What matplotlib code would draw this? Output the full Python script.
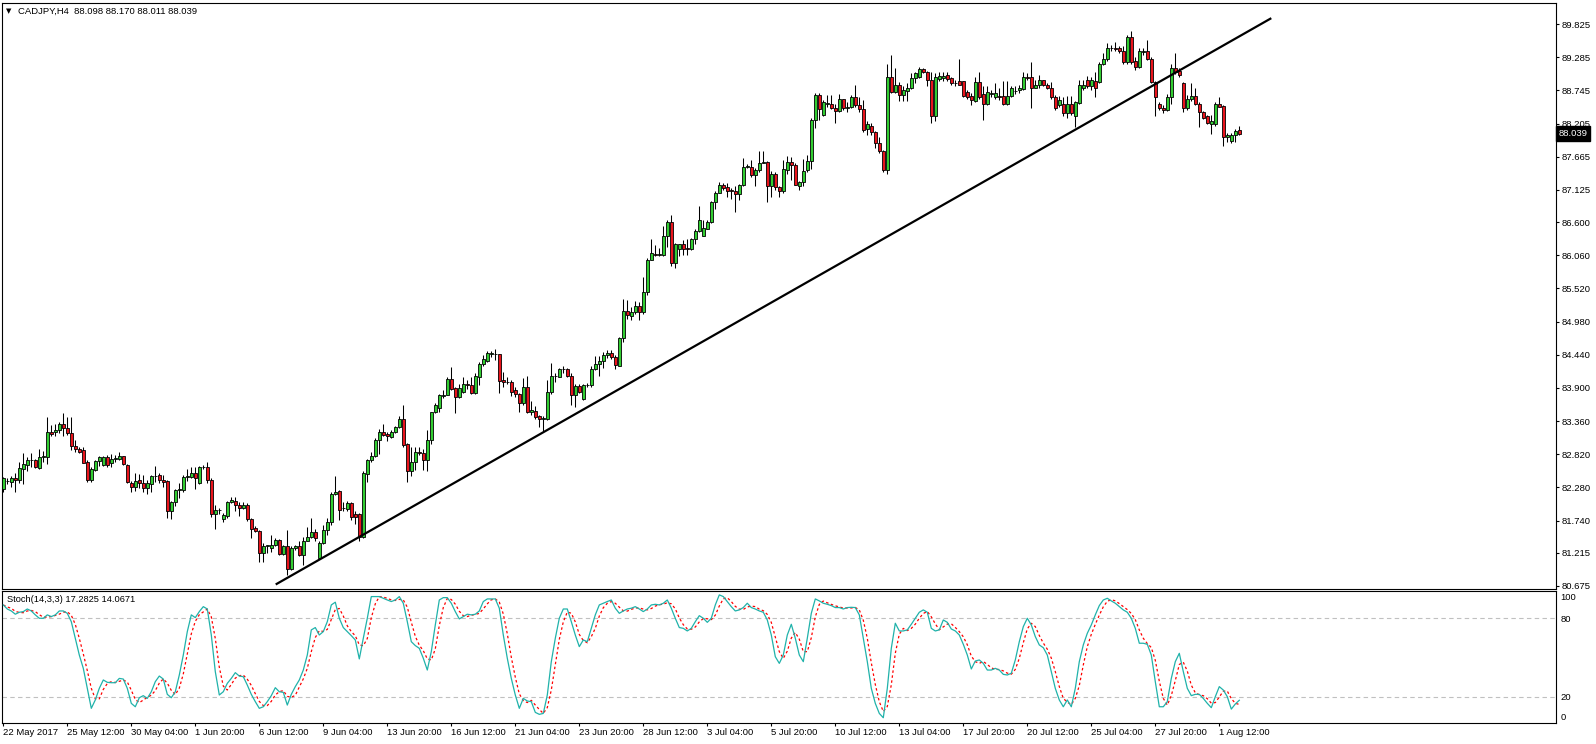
# plot.py
import numpy as np
import pandas as pd
import matplotlib
matplotlib.use("Agg")
import matplotlib.pyplot as plt
from matplotlib.transforms import blended_transform_factory

plt.rcParams['font.family'] = ['Liberation Sans', 'DejaVu Sans']

# -- CADJPY H4 candles -------------------------------------------------
opens = [
    82.26, 82.39, 82.37, 82.43, 82.40, 82.58, 82.65, 82.72, 82.72, 82.60,
    82.78, 82.78, 83.18, 83.18, 83.22, 83.32, 83.24, 83.16, 82.96, 82.91,
    82.89, 82.69, 82.40, 82.56, 82.71, 82.65, 82.78, 82.67, 82.75, 82.75,
    82.79, 82.65, 82.36, 82.28, 82.40, 82.36, 82.27, 82.33, 82.46, 82.48,
    82.40, 82.38, 81.89, 82.05, 82.24, 82.24, 82.45, 82.45, 82.51, 82.35,
    82.61, 82.61, 82.40, 81.84, 81.91, 81.77, 81.82, 82.05, 82.06, 82.00,
    81.95, 82.00, 81.76, 81.62, 81.57, 81.21, 81.33, 81.30, 81.34, 81.42,
    81.19, 81.32, 80.95, 81.29, 81.33, 81.18, 81.41, 81.48, 81.55, 81.13,
    81.38, 81.59, 81.71, 82.18, 82.22, 81.94, 81.93, 82.02, 81.85, 81.85,
    81.47, 82.50, 82.72, 82.79, 83.06, 83.19, 83.15, 83.10, 83.19, 83.26,
    83.39, 82.98, 82.55, 82.70, 82.86, 82.84, 82.72, 83.06, 83.50, 83.58,
    83.77, 83.79, 84.05, 83.90, 83.76, 83.84, 83.97, 83.94, 83.82, 84.08,
    84.29, 84.34, 84.45, 84.45, 84.45, 84.03, 83.99, 83.99, 83.86, 83.80,
    83.65, 83.91, 83.50, 83.53, 83.44, 83.40, 83.40, 83.83, 84.09, 84.08,
    84.21, 84.20, 84.10, 83.78, 83.93, 83.72, 83.94, 83.94, 84.21, 84.29,
    84.34, 84.43, 84.47, 84.40, 84.26, 84.71, 85.16, 85.07, 85.14, 85.23,
    85.13, 85.46, 85.99, 86.08, 86.07, 86.06, 86.38, 86.60, 85.94, 86.16,
    86.24, 86.17, 86.16, 86.32, 86.46, 86.38, 86.49, 86.60, 86.92, 87.08,
    87.21, 87.17, 87.12, 87.11, 87.05, 87.20, 87.49, 87.49, 87.36, 87.44,
    87.57, 87.58, 87.18, 87.38, 87.17, 87.10, 87.45, 87.58, 87.53, 87.18,
    87.25, 87.44, 87.59, 88.27, 88.67, 88.34, 88.53, 88.53, 88.46, 88.41,
    88.60, 88.45, 88.48, 88.63, 88.51, 88.44, 88.12, 88.16, 88.06, 87.88,
    87.76, 87.45, 88.97, 88.72, 88.83, 88.67, 88.74, 88.78, 88.94, 88.97,
    89.09, 89.05, 88.92, 88.32, 88.93, 88.94, 89.00, 88.95, 88.86, 88.90,
    88.90, 88.72, 88.66, 88.57, 88.88, 88.68, 88.53, 88.69, 88.64, 88.66,
    88.66, 88.52, 88.66, 88.73, 88.75, 88.77, 88.97, 88.96, 88.79, 88.83,
    88.91, 88.84, 88.79, 88.64, 88.51, 88.53, 88.37, 88.53, 88.32, 88.54,
    88.78, 88.91, 88.81, 88.90, 88.88, 89.17, 89.25, 89.43, 89.43, 89.43,
    89.39, 89.20, 89.62, 89.22, 89.13, 89.37, 89.38, 89.25, 88.88, 88.52,
    88.45, 88.43, 88.64, 89.11, 89.06, 88.86, 88.45, 88.60, 88.66, 88.53,
    88.39, 88.32, 88.19, 88.19, 88.53, 88.49, 87.99, 87.92, 88.02, 88.098,
]
highs = [
    82.45, 82.43, 82.46, 82.51, 82.70, 82.84, 82.78, 82.84, 82.75, 82.91,
    82.87, 83.42, 83.30, 83.31, 83.35, 83.49, 83.42, 83.42, 83.05, 82.93,
    82.94, 82.73, 82.62, 82.73, 82.79, 82.79, 82.81, 82.82, 82.80, 82.86,
    82.79, 82.66, 82.38, 82.51, 82.50, 82.48, 82.40, 82.48, 82.63, 82.51,
    82.48, 82.40, 82.06, 82.26, 82.36, 82.48, 82.58, 82.62, 82.62, 82.63,
    82.64, 82.69, 82.43, 81.99, 81.94, 81.86, 82.06, 82.13, 82.13, 82.04,
    82.04, 82.02, 81.78, 81.65, 81.59, 81.37, 81.35, 81.50, 81.45, 81.44,
    81.35, 81.59, 81.32, 81.34, 81.41, 81.48, 81.63, 81.78, 81.61, 81.40,
    81.67, 81.78, 82.21, 82.46, 82.24, 82.05, 82.06, 82.05, 81.89, 81.87,
    82.54, 82.74, 82.86, 83.08, 83.23, 83.31, 83.19, 83.21, 83.28, 83.45,
    83.62, 83.01, 82.94, 82.94, 82.94, 82.90, 83.21, 83.51, 83.65, 83.80,
    83.87, 84.07, 84.24, 83.92, 83.97, 84.07, 84.03, 84.07, 84.14, 84.33,
    84.44, 84.50, 84.50, 84.54, 84.46, 84.16, 84.08, 84.03, 83.92, 83.82,
    84.06, 84.09, 83.68, 83.61, 83.46, 83.44, 84.03, 84.31, 84.14, 84.23,
    84.25, 84.22, 84.14, 83.96, 83.96, 83.97, 83.98, 84.25, 84.42, 84.42,
    84.49, 84.51, 84.51, 84.44, 84.73, 85.34, 85.33, 85.22, 85.32, 85.30,
    85.71, 86.01, 86.32, 86.23, 86.17, 86.53, 86.63, 86.71, 86.26, 86.25,
    86.31, 86.32, 86.34, 86.48, 86.86, 86.63, 86.63, 86.95, 87.11, 87.26,
    87.24, 87.23, 87.16, 87.18, 87.22, 87.64, 87.55, 87.61, 87.48, 87.75,
    87.76, 87.60, 87.43, 87.42, 87.19, 87.61, 87.68, 87.66, 87.56, 87.27,
    87.62, 87.69, 88.29, 88.70, 88.70, 88.58, 88.67, 88.67, 88.53, 88.69,
    88.61, 88.56, 88.67, 88.83, 88.64, 88.59, 88.24, 88.21, 88.08, 87.99,
    87.77, 89.17, 89.32, 89.11, 88.88, 88.82, 88.86, 89.02, 89.05, 89.13,
    89.11, 89.06, 89.05, 89.02, 89.04, 89.05, 89.05, 88.97, 88.91, 89.26,
    88.90, 88.75, 88.70, 88.97, 89.05, 88.82, 88.82, 88.75, 88.86, 88.78,
    88.89, 88.90, 88.81, 88.81, 88.84, 89.05, 89.02, 89.20, 88.91, 89.00,
    88.91, 88.86, 88.88, 88.67, 88.66, 88.63, 88.66, 88.66, 88.57, 88.91,
    88.91, 88.98, 88.97, 89.05, 89.20, 89.35, 89.51, 89.49, 89.54, 89.47,
    89.46, 89.65, 89.71, 89.29, 89.44, 89.43, 89.56, 89.28, 88.90, 88.55,
    88.51, 88.68, 89.17, 89.35, 89.11, 88.88, 88.67, 88.86, 88.78, 88.56,
    88.41, 88.34, 88.34, 88.55, 88.64, 88.51, 88.05, 88.05, 88.12, 88.170,
]
lows = [
    82.21, 82.33, 82.29, 82.20, 82.36, 82.33, 82.54, 82.62, 82.59, 82.58,
    82.70, 82.66, 83.11, 83.12, 83.16, 83.11, 83.13, 82.89, 82.86, 82.84,
    82.67, 82.37, 82.37, 82.55, 82.63, 82.63, 82.62, 82.62, 82.70, 82.73,
    82.65, 82.35, 82.21, 82.22, 82.27, 82.21, 82.18, 82.21, 82.37, 82.36,
    82.28, 81.78, 81.77, 81.97, 82.10, 82.21, 82.39, 82.43, 82.26, 82.33,
    82.58, 82.36, 81.80, 81.61, 81.84, 81.72, 81.79, 82.02, 81.89, 81.82,
    81.93, 81.74, 81.46, 81.56, 81.07, 81.07, 81.22, 81.23, 81.33, 81.18,
    81.18, 80.86, 80.94, 81.26, 81.17, 81.02, 81.40, 81.46, 81.40, 81.11,
    81.36, 81.51, 81.67, 82.16, 81.75, 81.89, 81.89, 81.75, 81.69, 81.41,
    81.45, 82.37, 82.70, 82.78, 82.82, 83.11, 83.03, 83.08, 83.17, 83.24,
    82.94, 82.37, 82.46, 82.56, 82.81, 82.56, 82.55, 82.99, 83.49, 83.51,
    83.73, 83.78, 83.87, 83.49, 83.73, 83.82, 83.89, 83.80, 83.80, 83.95,
    84.25, 84.33, 84.41, 84.35, 83.82, 83.92, 83.96, 83.77, 83.76, 83.51,
    83.62, 83.49, 83.46, 83.40, 83.26, 83.20, 83.38, 83.80, 84.00, 84.07,
    84.14, 84.07, 83.62, 83.59, 83.82, 83.71, 83.91, 83.92, 84.19, 84.09,
    84.23, 84.38, 84.37, 84.21, 84.26, 84.65, 85.02, 85.01, 85.11, 85.00,
    85.10, 85.41, 85.98, 86.04, 86.05, 86.05, 86.20, 85.88, 85.85, 86.04,
    86.06, 86.06, 86.15, 86.24, 86.44, 86.37, 86.48, 86.58, 86.82, 87.07,
    87.12, 87.01, 86.98, 86.77, 86.96, 87.19, 87.48, 87.34, 87.18, 87.42,
    87.56, 86.92, 87.01, 87.12, 87.01, 87.08, 87.39, 87.29, 87.20, 87.12,
    87.18, 87.42, 87.46, 88.13, 88.26, 88.33, 88.48, 88.44, 88.22, 88.40,
    88.42, 88.40, 88.45, 88.48, 88.40, 88.07, 88.02, 88.02, 87.80, 87.72,
    87.42, 87.39, 88.70, 88.70, 88.57, 88.57, 88.57, 88.77, 88.86, 88.95,
    89.02, 88.82, 88.22, 88.25, 88.89, 88.90, 88.90, 88.83, 88.81, 88.83,
    88.64, 88.61, 88.51, 88.55, 88.61, 88.26, 88.51, 88.64, 88.60, 88.59,
    88.51, 88.51, 88.64, 88.68, 88.70, 88.75, 88.91, 88.46, 88.78, 88.78,
    88.81, 88.77, 88.61, 88.43, 88.48, 88.32, 88.30, 88.34, 88.15, 88.52,
    88.75, 88.78, 88.75, 88.64, 88.86, 89.16, 89.22, 89.38, 89.38, 89.35,
    89.18, 89.18, 89.18, 89.08, 89.11, 89.32, 89.24, 88.86, 88.32, 88.43,
    88.37, 88.41, 88.53, 89.01, 88.97, 88.40, 88.43, 88.57, 88.51, 88.14,
    88.28, 88.19, 88.03, 88.17, 88.48, 87.84, 87.90, 87.88, 87.90, 88.011,
]
closes = [
    82.43, 82.38, 82.43, 82.40, 82.59, 82.66, 82.72, 82.73, 82.61, 82.78,
    82.79, 83.18, 83.15, 83.22, 83.32, 83.24, 83.16, 82.96, 82.91, 82.86,
    82.68, 82.40, 82.58, 82.71, 82.78, 82.78, 82.65, 82.74, 82.76, 82.79,
    82.66, 82.37, 82.28, 82.38, 82.36, 82.27, 82.35, 82.46, 82.47, 82.40,
    82.37, 81.89, 82.04, 82.24, 82.25, 82.45, 82.46, 82.52, 82.44, 82.61,
    82.62, 82.40, 81.84, 81.91, 81.92, 81.83, 82.05, 82.07, 82.00, 81.95,
    82.00, 81.76, 81.61, 81.57, 81.21, 81.33, 81.33, 81.34, 81.42, 81.19,
    81.32, 80.95, 81.29, 81.33, 81.18, 81.41, 81.48, 81.55, 81.46, 81.38,
    81.59, 81.71, 82.18, 82.21, 81.91, 81.94, 82.02, 81.80, 81.80, 81.47,
    82.52, 82.72, 82.79, 83.06, 83.19, 83.13, 83.11, 83.19, 83.26, 83.39,
    82.97, 82.55, 82.70, 82.86, 82.84, 82.72, 83.06, 83.50, 83.62, 83.78,
    83.79, 84.05, 83.89, 83.76, 83.90, 83.97, 83.94, 83.82, 84.09, 84.29,
    84.37, 84.47, 84.47, 84.46, 84.02, 83.99, 83.99, 83.84, 83.80, 83.65,
    83.91, 83.50, 83.54, 83.43, 83.39, 83.41, 83.83, 84.09, 84.10, 84.21,
    84.21, 84.10, 83.78, 83.93, 83.84, 83.94, 83.95, 84.21, 84.29, 84.34,
    84.43, 84.47, 84.40, 84.27, 84.71, 85.16, 85.09, 85.14, 85.23, 85.13,
    85.46, 85.99, 86.09, 86.07, 86.08, 86.38, 86.60, 85.94, 86.24, 86.24,
    86.16, 86.16, 86.32, 86.46, 86.64, 86.51, 86.60, 86.92, 87.08, 87.21,
    87.15, 87.11, 87.11, 87.05, 87.20, 87.49, 87.52, 87.36, 87.45, 87.57,
    87.58, 87.18, 87.39, 87.17, 87.10, 87.46, 87.58, 87.53, 87.21, 87.25,
    87.43, 87.59, 88.27, 88.67, 88.44, 88.55, 88.54, 88.45, 88.41, 88.60,
    88.45, 88.48, 88.63, 88.51, 88.44, 88.10, 88.20, 88.06, 87.88, 87.75,
    87.45, 88.97, 88.72, 88.83, 88.67, 88.75, 88.79, 88.95, 89.02, 89.09,
    89.04, 88.92, 88.32, 88.97, 88.98, 88.98, 88.93, 88.86, 88.86, 88.84,
    88.66, 88.64, 88.58, 88.88, 88.64, 88.53, 88.72, 88.69, 88.70, 88.64,
    88.52, 88.66, 88.78, 88.74, 88.78, 88.97, 88.94, 88.79, 88.84, 88.91,
    88.83, 88.78, 88.63, 88.45, 88.59, 88.37, 88.53, 88.37, 88.55, 88.83,
    88.83, 88.81, 88.91, 88.78, 89.17, 89.26, 89.43, 89.43, 89.42, 89.38,
    89.20, 89.62, 89.21, 89.13, 89.38, 89.38, 89.25, 88.88, 88.63, 88.45,
    88.43, 88.64, 89.11, 89.05, 89.00, 88.45, 88.60, 88.66, 88.53, 88.39,
    88.30, 88.21, 88.24, 88.53, 88.48, 87.99, 88.02, 88.02, 88.09, 88.039,
]

# Stoch(14,3,3) main line %K
stoch_k = [
    90.2, 87.1, 85.6, 83.1, 84.6, 85.1, 87.1, 85.6, 82.6, 80.0,
    80.0, 82.6, 81.3, 82.6, 85.6, 85.6, 83.8, 77.4, 64.7, 51.9,
    41.7, 26.4, 11.1, 17.5, 26.4, 32.8, 31.0, 30.7, 30.7, 34.0,
    33.5, 26.4, 14.9, 12.3, 19.2, 20.8, 18.7, 23.8, 31.5, 35.8,
    33.5, 21.8, 19.2, 23.8, 36.6, 51.9, 69.8, 82.6, 80.5, 85.1,
    88.9, 87.1, 67.2, 39.2, 21.3, 23.8, 30.2, 34.0, 38.4, 35.8,
    35.3, 28.9, 21.8, 16.2, 11.1, 12.3, 16.2, 20.8, 26.9, 23.8,
    23.3, 13.6, 21.8, 27.7, 32.8, 40.4, 51.9, 71.1, 72.9, 67.2,
    69.8, 77.4, 90.2, 92.3, 80.0, 72.9, 69.8, 66.7, 63.4, 48.9,
    64.7, 80.0, 96.6, 96.6, 96.6, 95.3, 94.0, 92.8, 94.0, 96.6,
    91.5, 77.4, 62.1, 59.1, 57.0, 49.4, 40.4, 54.5, 74.9, 94.0,
    95.8, 95.8, 91.5, 85.1, 79.5, 81.3, 83.1, 82.6, 83.1, 85.6,
    92.8, 94.8, 94.8, 94.8, 87.7, 67.2, 49.4, 34.0, 21.3, 11.1,
    18.7, 16.7, 16.2, 8.0, 6.5, 7.2, 21.3, 46.8, 64.7, 80.0,
    87.1, 87.1, 77.4, 67.2, 58.3, 63.4, 62.1, 72.3, 82.6, 90.2,
    91.5, 92.8, 94.0, 87.7, 83.8, 85.6, 87.1, 87.7, 88.9, 87.1,
    85.1, 87.1, 90.2, 90.7, 90.2, 91.5, 94.0, 87.7, 80.0, 72.9,
    72.3, 70.3, 72.3, 77.4, 82.0, 80.0, 76.9, 80.0, 90.2, 97.9,
    96.6, 92.8, 88.9, 85.6, 86.4, 88.2, 91.5, 88.2, 87.1, 85.6,
    84.6, 78.7, 67.2, 50.6, 45.5, 51.9, 67.2, 75.4, 64.7, 51.9,
    46.8, 64.7, 83.8, 94.8, 93.3, 91.5, 90.7, 89.7, 88.2, 88.2,
    87.1, 88.2, 88.4, 88.2, 82.6, 64.7, 46.8, 26.4, 14.9, 7.2,
    3.9, 26.4, 57.0, 76.2, 70.3, 70.3, 71.1, 75.4, 80.0, 84.6,
    86.4, 84.6, 72.3, 70.3, 71.1, 78.7, 76.9, 71.8, 70.3, 67.2,
    60.1, 51.9, 41.2, 47.3, 48.1, 45.5, 40.4, 40.4, 41.7, 40.4,
    37.1, 36.6, 37.9, 48.1, 62.1, 73.6, 80.0, 74.9, 66.0, 59.6,
    57.5, 51.9, 39.2, 26.4, 17.5, 12.3, 17.5, 12.3, 26.4, 46.8,
    59.6, 68.5, 74.9, 82.6, 89.7, 94.0, 95.3, 93.3, 91.5, 88.9,
    86.4, 84.6, 80.0, 72.3, 60.9, 60.9, 60.1, 51.9, 31.5, 12.3,
    12.3, 16.2, 34.0, 46.8, 53.2, 39.2, 26.4, 20.8, 21.8, 21.8,
    18.7, 14.9, 11.6, 20.0, 27.7, 25.1, 20.0, 10.5, 14.4, 17.28,
]

# trend line anchors (bar index, price)
trend_bars = [68.1, 317.0]
trend_prices = [80.70, 89.92]

price_ticks = [89.825, 89.285, 88.745, 88.205, 87.665, 87.125, 86.600, 86.060, 85.520,
               84.980, 84.440, 83.900, 83.360, 82.820, 82.280, 81.740, 81.215, 80.675]
price_labels = ["%.3f" % p for p in price_ticks]

date_labels = ["22 May 2017", "25 May 12:00", "30 May 04:00", "1 Jun 20:00", "6 Jun 12:00",
               "9 Jun 04:00", "13 Jun 20:00", "16 Jun 12:00", "21 Jun 04:00", "23 Jun 20:00",
               "28 Jun 12:00", "3 Jul 04:00", "5 Jul 20:00", "10 Jul 12:00", "13 Jul 04:00",
               "17 Jul 20:00", "20 Jul 12:00", "25 Jul 04:00", "27 Jul 20:00", "1 Aug 12:00"]
date_bars = [16 * i for i in range(len(date_labels))]

last_price = 88.039
stoch_last = (17.2825, 14.0671)

# ---------------------------------------------------------------------
W, H = 1596, 744
fig = plt.figure(figsize=(W / 100, H / 100), dpi=100)
fig.patch.set_facecolor("white")

ax = fig.add_axes([2 / W, (H - 588.7) / H, 1554 / W, (588.7 - 3) / H])
ax2 = fig.add_axes([2 / W, (H - 722.7) / H, 1554 / W, (722.7 - 590.7) / H])

o = np.array(opens)
h = np.array(highs)
l = np.array(lows)
c = np.array(closes)
x = np.arange(len(c))
up = c >= o

ax.vlines(x, l, h, color="black", linewidth=0.75, zorder=2)
body_bottom = np.minimum(o, c)
body_height = np.maximum(np.abs(c - o), 0.005)
ax.bar(x, body_height, bottom=body_bottom, width=0.78,
       color=np.where(up, "#32cd32", "#e8141c"), edgecolor="black",
       linewidth=0.6, zorder=3)

ax.plot(trend_bars, trend_prices, color="black", linewidth=1.6,
        solid_capstyle="butt", zorder=4)

ax.set_xlim(-0.325, 388.175)
ax.set_ylim(80.631, 90.167)
ax.set_xticks([])
ax.yaxis.tick_right()
ax.set_yticks(price_ticks)
ax.set_yticklabels(price_labels)
ax.tick_params(axis="y", direction="out", length=2.5, width=0.8, pad=1.6,
               labelsize=6.8, colors="black")

# current price badge
trans = blended_transform_factory(ax.transAxes, ax.transData)
ax.text(1.0016, last_price, "%.3f" % last_price, transform=trans, color="white",
        fontsize=6.8, ha="left", va="center", clip_on=False, zorder=10,
        bbox=dict(boxstyle="square,pad=0.3", fc="black", ec="black"))

fig.text(6 / W, 1 - 11 / H, "\u25bc", fontsize=5, va="center", ha="left",
         family=["DejaVu Sans"])
fig.text(18 / W, 1 - 11 / H, "CADJPY,H4  88.098 88.170 88.011 88.039",
         fontsize=6.8, va="center", ha="left")

# -- stochastic ---------------------------------------------------------
k = pd.Series(stoch_k)
d = k.rolling(3, min_periods=1).mean()   # signal = 3-bar SMA of %K

ax2.axhline(80, color="#c0c0c0", linewidth=0.8, linestyle=(0, (4, 3)), zorder=1)
ax2.axhline(20, color="#c0c0c0", linewidth=0.8, linestyle=(0, (4, 3)), zorder=1)
ax2.plot(x, k, color="#20b2aa", linewidth=0.9, zorder=3)
ax2.plot(x, d, color="red", linewidth=0.9, linestyle=(0, (2, 2)), zorder=2)

ax2.set_xlim(-0.325, 388.175)
ax2.set_ylim(0.1, 101.1)
ax2.yaxis.tick_right()
ax2.set_yticks([4.6, 20, 80, 96.3])
ax2.set_yticklabels(["0", "20", "80", "100"])
ax2.tick_params(axis="y", length=0, pad=3.4, labelsize=6.8)

ax2.set_xticks(date_bars)
ax2.set_xticklabels(date_labels, ha="left")
ax2.tick_params(axis="x", direction="out", length=2.5, width=0.8, pad=1.5,
                labelsize=6.8)

fig.text(7 / W, 1 - 600 / H, "Stoch(14,3,3) %.4f %.4f" % stoch_last,
         fontsize=6.7, va="center", ha="left")

for a in (ax, ax2):
    for s in a.spines.values():
        s.set_color("black")
        s.set_linewidth(0.8)

fig.savefig("out.png", dpi=100)
